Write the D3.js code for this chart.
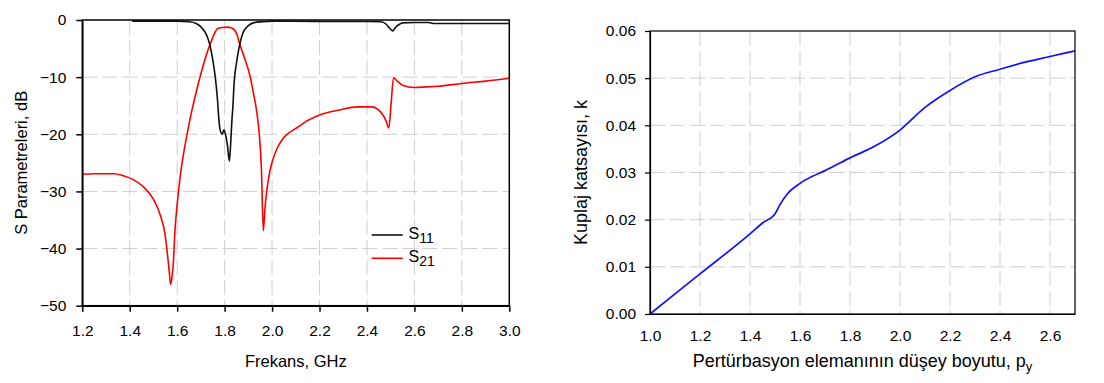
<!DOCTYPE html>
<html>
<head>
<meta charset="utf-8">
<script src="https://cdn.jsdelivr.net/npm/d3@7"></script>
<style>
  html, body { margin: 0; padding: 0; background: #fff; }
  svg { display: block; }
  text { font-family: "Liberation Sans", Arial, sans-serif; fill: #000; }
</style>
</head>
<body>
<svg id="chart" width="1104" height="383"></svg>
<script>
// ---------- Data: left chart (S parameters) ----------
const s11Freq = [1.41,1.5,1.6,1.65,1.68,1.70,1.72,1.73,1.74,1.75,1.76,1.77,1.775,1.78,1.79,1.797,1.805,1.812,1.82,1.825,1.83,1.835,1.84,1.85,1.86,1.87,1.88,1.90,1.92,1.96,2.0,2.2,2.4,2.46,2.48,2.495,2.51,2.52,2.535,2.55,2.6,2.66,2.68,2.8,3.0];
const s11dB   = [-0.2,-0.2,-0.2,-0.3,-0.6,-1.2,-2.3,-3.3,-4.8,-7,-9.8,-14,-17,-19,-20,-19.2,-20.3,-22,-24.7,-22,-18,-15,-11,-7.5,-5,-3.2,-2,-1,-0.5,-0.3,-0.2,-0.25,-0.25,-0.3,-0.7,-1.4,-1.9,-1.3,-0.8,-0.5,-0.45,-0.45,-0.6,-0.6,-0.6];

const s21Freq = [1.2,1.25,1.3,1.334,1.37,1.413,1.455,1.5,1.53,1.548,1.56,1.567,1.572,1.578,1.583,1.59,1.602,1.613,1.643,1.688,1.741,1.771,1.79,1.81,1.83,1.85,1.862,1.885,1.907,1.92,1.934,1.945,1.955,1.963,1.97,1.978,1.99,2.005,2.022,2.043,2.07,2.103,2.15,2.209,2.28,2.359,2.42,2.445,2.465,2.48,2.492,2.502,2.512,2.525,2.55,2.6,2.65,2.7,2.8,2.9,3.0];
const s21dB   = [-27.0,-26.9,-26.9,-26.9,-27.2,-27.9,-29.1,-31.4,-34.3,-37.3,-41.4,-44.2,-46.3,-45,-43.1,-37.3,-31.4,-27.3,-19.7,-11.3,-4.0,-1.5,-1.3,-1.25,-1.4,-2.3,-4.0,-6.8,-9.8,-12.5,-15.7,-19.5,-26,-36.9,-33,-29.8,-26.6,-24.2,-22.4,-20.9,-19.8,-18.9,-17.6,-16.5,-15.8,-15.2,-15.2,-15.6,-16.5,-17.6,-18.9,-14.5,-10.1,-10.6,-11.4,-11.8,-11.7,-11.6,-11.1,-10.7,-10.2];

const leftXTicks = [1.2,1.4,1.6,1.8,2.0,2.2,2.4,2.6,2.8,3.0];
const leftYTicks = [0,-10,-20,-30,-40,-50];
const legendNames = ["11","21"];

// ---------- Data: right chart (coupling coefficient) ----------
const pyVals = [1.0,1.2,1.4,1.45,1.5,1.52,1.55,1.6,1.65,1.7,1.8,1.9,2.0,2.1,2.2,2.3,2.4,2.5,2.6,2.7];
const kVals  = [0.0,0.0085,0.0170,0.0193,0.0212,0.0232,0.0255,0.0277,0.0292,0.0304,0.0331,0.0356,0.0390,0.0438,0.0474,0.0503,0.0519,0.0534,0.0546,0.0558];

const rightXTicks = [1.0,1.2,1.4,1.6,1.8,2.0,2.2,2.4,2.6];
const rightYTicks = [0,0.01,0.02,0.03,0.04,0.05,0.06];

// ---------- Drawing ----------
const svg = d3.select("#chart");
svg.append("rect").attr("width",1104).attr("height",383).attr("fill","#fff");

const gridColor = "#cfcfcf";
const gridDash = "15,5";
const tickFont = 15.5;

// ===== Left chart =====
const xL = d3.scaleLinear().domain([1.2,3.0]).range([82.3,509.3]);
const yL = d3.scaleLinear().domain([-50,0]).range([305.7,20]);
const gL = svg.append("g");

gL.append("g").selectAll("line").data(leftXTicks.slice(1,-1)).join("line")
  .attr("x1",d=>xL(d)).attr("x2",d=>xL(d)).attr("y1",yL(0)).attr("y2",yL(-50))
  .attr("stroke",gridColor).attr("stroke-width",1).attr("stroke-dasharray",gridDash);
gL.append("g").selectAll("line").data(leftYTicks.slice(1,-1)).join("line")
  .attr("x1",xL(1.2)).attr("x2",xL(3.0)).attr("y1",d=>yL(d)).attr("y2",d=>yL(d))
  .attr("stroke",gridColor).attr("stroke-width",1).attr("stroke-dasharray",gridDash);

const lineS11 = d3.line().x((d,i)=>xL(s11Freq[i])).y(d=>yL(d)).curve(d3.curveMonotoneX);
const lineS21 = d3.line().x((d,i)=>xL(s21Freq[i])).y(d=>yL(d)).curve(d3.curveMonotoneX);
gL.append("path").attr("d",lineS21(s21dB)).attr("fill","none").attr("stroke","#ff0000").attr("stroke-width",1.6);
gL.append("path").attr("d",lineS11(s11dB)).attr("fill","none").attr("stroke","#111").attr("stroke-width",1.6);

gL.append("rect").attr("x",xL(1.2)).attr("y",yL(0)).attr("width",xL(3.0)-xL(1.2)).attr("height",yL(-50)-yL(0))
  .attr("fill","none").attr("stroke","#000").attr("stroke-width",1.5);

const axLB = gL.append("g").attr("transform",`translate(0,${yL(-50)})`)
  .call(d3.axisBottom(xL).tickValues(leftXTicks).tickFormat(d3.format(".1f")).tickSizeInner(6).tickSizeOuter(0).tickPadding(13));
const axLL = gL.append("g").attr("transform",`translate(${xL(1.2)},0)`)
  .call(d3.axisLeft(yL).tickValues(leftYTicks).tickFormat(d3.format("d")).tickSizeInner(6).tickSizeOuter(0).tickPadding(10));
[axLB,axLL].forEach(a=>{
  a.select(".domain").attr("stroke","#000").attr("stroke-width",1.5);
  a.selectAll(".tick line").attr("stroke","#000").attr("stroke-width",1.5);
  a.selectAll(".tick text").attr("font-size",tickFont).attr("font-family",'"Liberation Sans", Arial, sans-serif').attr("fill","#000");
});

gL.append("text").attr("x",(xL(1.2)+xL(3.0))/2).attr("y",367).attr("text-anchor","middle")
  .attr("font-size",16.5).text("Frekans, GHz");
gL.append("text").attr("transform",`translate(27,${(yL(0)+yL(-50))/2}) rotate(-90)`).attr("text-anchor","middle")
  .attr("font-size",16.5).text("S Parametreleri, dB");

const legColors = ["#111","#ff0000"];
const legY = [235,258.3];
legendNames.forEach((n,i)=>{
  gL.append("line").attr("x1",371.7).attr("x2",402.7).attr("y1",legY[i]).attr("y2",legY[i])
    .attr("stroke",legColors[i]).attr("stroke-width",1.6);
  const t = gL.append("text").attr("x",408.5).attr("y",legY[i]+3.5).attr("font-size",16);
  t.append("tspan").text("S");
  t.append("tspan").attr("dy",4).attr("font-size",14).text(n);
});

// ===== Right chart =====
const xR = d3.scaleLinear().domain([1.0,2.7]).range([650,1075]);
const yR = d3.scaleLinear().domain([0,0.06]).range([314,31]);
const gR = svg.append("g");

gR.append("g").selectAll("line").data(rightXTicks.slice(1)).join("line")
  .attr("x1",d=>xR(d)).attr("x2",d=>xR(d)).attr("y1",yR(0.06)).attr("y2",yR(0))
  .attr("stroke",gridColor).attr("stroke-width",1).attr("stroke-dasharray",gridDash);
gR.append("g").selectAll("line").data(rightYTicks.slice(1,-1)).join("line")
  .attr("x1",xR(1.0)).attr("x2",xR(2.7)).attr("y1",d=>yR(d)).attr("y2",d=>yR(d))
  .attr("stroke",gridColor).attr("stroke-width",1).attr("stroke-dasharray",gridDash);

const lineK = d3.line().x((d,i)=>xR(pyVals[i])).y(d=>yR(d)).curve(d3.curveMonotoneX);
gR.append("path").attr("d",lineK(kVals)).attr("fill","none").attr("stroke","#1010ff").attr("stroke-width",1.7);

gR.append("rect").attr("x",xR(1.0)).attr("y",yR(0.06)).attr("width",xR(2.7)-xR(1.0)).attr("height",yR(0)-yR(0.06))
  .attr("fill","none").attr("stroke","#000").attr("stroke-width",1.2);

const axRB = gR.append("g").attr("transform",`translate(0,${yR(0)})`)
  .call(d3.axisBottom(xR).tickValues(rightXTicks).tickFormat(d3.format(".1f")).tickSizeInner(0).tickSizeOuter(0).tickPadding(16));
const axRL = gR.append("g").attr("transform",`translate(${xR(1.0)},0)`)
  .call(d3.axisLeft(yR).tickValues(rightYTicks).tickFormat(d3.format(".2f")).tickSizeInner(5).tickSizeOuter(0).tickPadding(9));
[axRB,axRL].forEach(a=>{
  a.select(".domain").attr("stroke","#000").attr("stroke-width",1.2);
  a.selectAll(".tick line").attr("stroke","#000").attr("stroke-width",1.2);
  a.selectAll(".tick text").attr("font-size",tickFont).attr("font-family",'"Liberation Sans", Arial, sans-serif').attr("fill","#000");
});

const tX = gR.append("text").attr("x",(xR(1.0)+xR(2.7))/2).attr("y",367).attr("text-anchor","middle").attr("font-size",18);
tX.append("tspan").text("Pertürbasyon elemanının düşey boyutu, p");
tX.append("tspan").attr("dy",4).attr("font-size",13).text("y");
gR.append("text").attr("transform",`translate(587,${(yR(0)+yR(0.06))/2}) rotate(-90)`).attr("text-anchor","middle")
  .attr("font-size",18).text("Kuplaj katsayısı, k");
</script>
</body>
</html>
